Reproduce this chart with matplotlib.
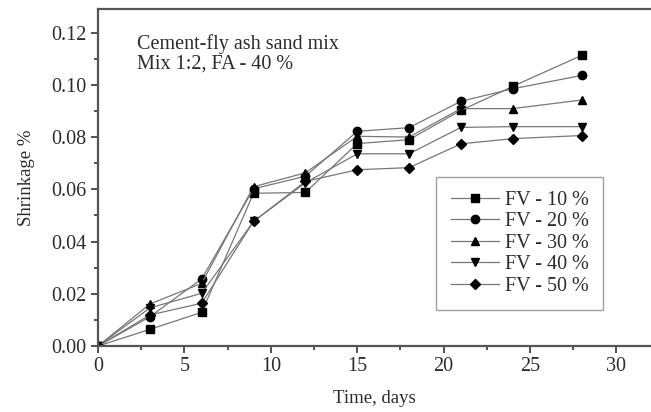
import matplotlib.pyplot as plt
from matplotlib.ticker import MultipleLocator

days = [0, 3, 6, 9, 12, 15, 18, 21, 24, 28]
fv10 = [0, 0.0064, 0.0129, 0.0585, 0.0588, 0.0775, 0.0790, 0.0902, 0.0994, 0.1113]
fv20 = [0, 0.0112, 0.0257, 0.0602, 0.0650, 0.0822, 0.0836, 0.0937, 0.0985, 0.1036]
fv30 = [0, 0.0161, 0.0240, 0.0610, 0.0663, 0.0803, 0.0800, 0.0909, 0.0909, 0.0942]
fv40 = [0, 0.0146, 0.0202, 0.0477, 0.0625, 0.0736, 0.0736, 0.0837, 0.0840, 0.0840]
fv50 = [0, 0.0119, 0.0164, 0.0477, 0.0630, 0.0675, 0.0683, 0.0774, 0.0794, 0.0806]
labels = ['FV - 10 %', 'FV - 20 %', 'FV - 30 %', 'FV - 40 %', 'FV - 50 %']
markers = ['s', 'o', '^', 'v', 'D']

plt.rcParams['font.family'] = ['Liberation Serif', 'DejaVu Serif']
txt = '#2b2b33'

fig = plt.figure(figsize=(6.51, 4.12), dpi=100)
ax = fig.add_axes([0.1505, 0.160, 0.8495, 0.818])

for ys, m, lab in zip([fv10, fv20, fv30, fv40, fv50], markers, labels):
    ax.plot(days, ys, color='#777777', lw=0.9, marker=m,
            ms=6 if m != 'D' else 5, mfc='black', mec='black', label=lab)

ax.set_xlim(0, 32)
ax.set_ylim(0, 0.129)
ax.xaxis.set_major_locator(MultipleLocator(5))
ax.xaxis.set_minor_locator(MultipleLocator(2.5))
ax.yaxis.set_major_locator(MultipleLocator(0.02))
ax.yaxis.set_minor_locator(MultipleLocator(0.01))
ax.yaxis.set_major_formatter(plt.FormatStrFormatter('%.2f'))
ax.tick_params(which='major', direction='out', length=5, width=1.2,
               labelsize=14.5, labelcolor=txt, color='#333333', pad=3)
ax.tick_params(which='minor', direction='out', length=3, width=1.2, color='#333333')
ax.spines['right'].set_visible(False)
for s in ['left', 'bottom', 'top']:
    ax.spines[s].set_linewidth(1.6)
    ax.spines[s].set_color('#555555')

ax.set_xlabel('Time, days', fontsize=13.5, color=txt, labelpad=10)
ax.set_ylabel('Shrinkage %', fontsize=13.5, color=txt, labelpad=12)

ax.text(0.071, 0.925, 'Cement-fly ash sand mix\nMix 1:2, FA - 40 %',
        transform=ax.transAxes, fontsize=14.5, color=txt, va='top',
        linespacing=1.05)

leg = ax.legend(loc='upper left', bbox_to_anchor=(0.612, 0.503), fontsize=14.5,
                frameon=True, fancybox=False, edgecolor='#888888',
                handlelength=2.4, labelspacing=0.12, borderpad=0.7,
                handletextpad=0.3, borderaxespad=0)
for t in leg.get_texts():
    t.set_color(txt)

fig.savefig('out.png', dpi=100)
